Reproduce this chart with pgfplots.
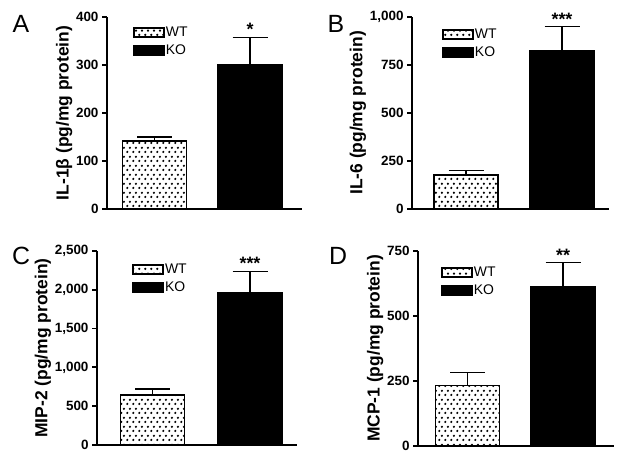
\documentclass[border=0pt]{standalone}
\usepackage{fontspec}
\setmainfont{Liberation Sans}
\usepackage{pgfplots}
\pgfplotsset{compat=1.18}
\usetikzlibrary{patterns.meta}
\tikzdeclarepattern{
  name=wtdots,
  type=uncolored,
  bottom left={(0pt,0pt)},
  top right={(6bp,9bp)},
  tile size={(6bp,9bp)},
  code={
    \pgfpathcircle{\pgfpoint{1.5bp}{2.25bp}}{1.35bp}
    \pgfpathcircle{\pgfpoint{4.5bp}{6.75bp}}{1.35bp}
    \pgfusepath{fill}
  }
}
\tikzset{
  star/.style={font=\bfseries\fontsize{18}{18}\selectfont, inner sep=0pt},
  letter/.style={font=\fontsize{25}{25}\selectfont, inner sep=0pt},
}
\pgfplotsset{
  panel/.style={
    scale only axis,
    height=#1,
    axis x line*=bottom, axis y line*=left,
    axis line style={line width=1.8bp, black, -},
    xtick=\empty,
    ymin=0,
    tick align=outside,
    major tick length=5bp,
    ytick style={line width=1.8bp, black},
    yticklabel style={font=\bfseries\fontsize{13.5}{13.5}\selectfont, /pgf/number format/assume math mode=true, /pgf/number format/1000 sep={,}},
    ylabel style={font=\bfseries\fontsize{17.5}{17.5}\selectfont},
    ylabel shift=-3bp,
    clip=false,
    legend cell align=left,
    legend style={draw=none, fill=none, inner sep=0pt, row sep=7bp,
      font=\fontsize{14}{14}\selectfont,
      nodes={inner xsep=1bp, inner ysep=0pt}},
    legend image code/.code={\draw[##1] (0bp,-4.5bp) rectangle (30bp,4.5bp);},
  },
  ebar/.style={
    error bars/y dir=plus, error bars/y explicit,
    error bars/error mark=-,
    error bars/error bar style={line width=1.6bp, black},
    error bars/error mark options={rotate=90, line width=1.6bp, black, mark size=17.5bp}},
  wt/.style={ybar, bar shift=0pt, bar width=64, draw=black, line width=1.8bp,
    fill=white, postaction={pattern={wtdots}, pattern color=black}, ebar},
  ko/.style={ybar, bar shift=0pt, bar width=64, draw=black, line width=1.8bp,
    fill=black, ebar},
}
\begin{document}
\begin{tikzpicture}[x=1bp,y=1bp]
\useasboundingbox (0,0) rectangle (624,460);
\node[letter] at (21,436) {A};
\node[letter] at (336,436) {B};
\node[letter] at (21,204.5) {C};
\node[letter] at (338,204) {D};
% Panel A
\begin{axis}[panel=192bp, width=195bp, at={(107bp,251bp)}, anchor=south west,
  xmin=0, xmax=195, ymax=400, ytick={0,100,200,300,400},
  ylabel={IL-1β (pg/mg protein)},
  legend style={at={(axis description cs:0.133,0.95)}, anchor=north west}]
\addplot[wt] table[x=x, y=y, y error=e] {
x y e
47.5 142 8
};
\addlegendentry{WT}
\addplot[ko] table[x=x, y=y, y error=e] {
x y e
143 300 57
};
\addlegendentry{KO}
\node[star] at (axis cs:143,374) {*};
\end{axis}
% Panel B
\begin{axis}[panel=192bp, width=197bp, at={(412bp,251bp)}, anchor=south west,
  xmin=0, xmax=197, ymax=1000, ytick={0,250,500,750,1000},
  ylabel={IL-6 (pg/mg protein)},
  legend style={at={(axis description cs:0.152,0.94)}, anchor=north west}]
\addplot[wt] table[x=x, y=y, y error=e] {
x y e
54 178 22
};
\addlegendentry{WT}
\addplot[ko] table[x=x, y=y, y error=e] {
x y e
150 825 126
};
\addlegendentry{KO}
\node[star] at (axis cs:150,988) {***};
\end{axis}
% Panel C
\begin{axis}[panel=194bp, width=200bp, at={(97bp,15bp)}, anchor=south west,
  xmin=0, xmax=200, ymax=2500, ytick={0,500,1000,1500,2000,2500},
  ylabel={MIP-2 (pg/mg protein)},
  legend style={at={(axis description cs:0.175,0.935)}, anchor=north west}]
\addplot[wt] table[x=x, y=y, y error=e] {
x y e
55.5 643 77
};
\addlegendentry{WT}
\addplot[ko] table[x=x, y=y, y error=e] {
x y e
153 1964 274
};
\addlegendentry{KO}
\node[star] at (axis cs:153,2342) {***};
\end{axis}
% Panel D
\begin{axis}[panel=195bp, width=196bp, at={(418bp,14bp)}, anchor=south west,
  xmin=0, xmax=196, ymax=750, ytick={0,250,500,750},
  ylabel={MCP-1 (pg/mg protein)},
  legend style={at={(axis description cs:0.117,0.92)}, anchor=north west}]
\addplot[wt] table[x=x, y=y, y error=e] {
x y e
49.5 233 49
};
\addlegendentry{WT}
\addplot[ko] table[x=x, y=y, y error=e] {
x y e
145 612 93
};
\addlegendentry{KO}
\node[star] at (axis cs:145,733) {**};
\end{axis}
\end{tikzpicture}
\end{document}
